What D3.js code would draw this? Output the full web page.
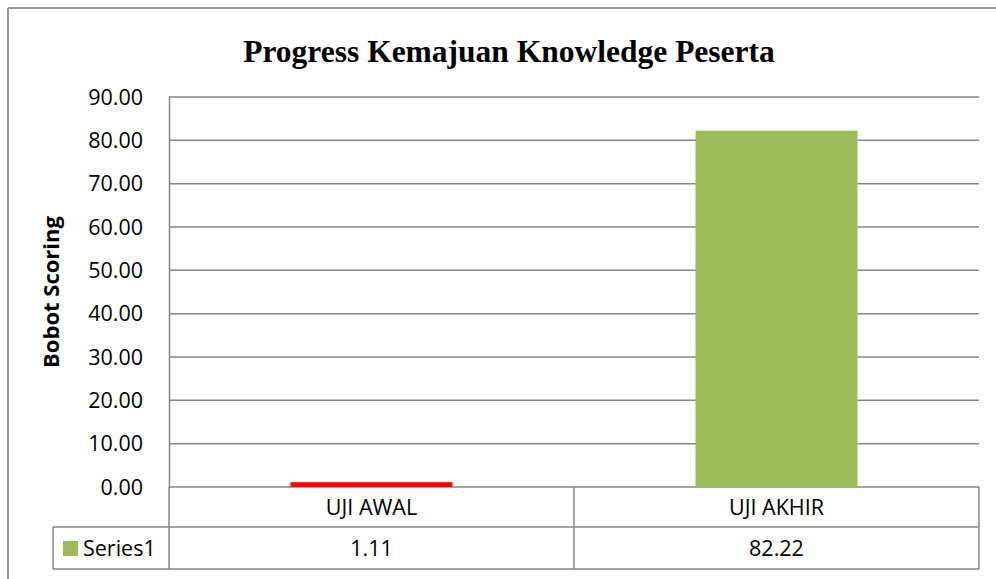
<!DOCTYPE html>
<html><head><meta charset="utf-8">
<script src="https://cdn.jsdelivr.net/npm/d3@7"></script>
<style>body{margin:0;background:#fff}svg{display:block}</style>
</head><body>
<svg id="c" width="996" height="579"></svg>
<script>
const categories = ["UJI AWAL", "UJI AKHIR"];
const values = [1.11, 82.22];
const barColors = ["#FF0000", "#9BBB59"];
const seriesName = "Series1";
const legendColor = "#9BBB59";
const yTicks = [0,10,20,30,40,50,60,70,80,90];
const title = "Progress Kemajuan Knowledge Peserta";
const yTitle = "Bobot Scoring";

const svg = d3.select("#c");
const L = 169, R = 979, T = 97, B = 487;
const gridColor = "#868686";
const sans = "'Open Sans', 'Noto Sans', sans-serif";
const fs = 21.5;

// outer frame
svg.append("line").attr("x1",8).attr("x2",996).attr("y1",8).attr("y2",8).attr("stroke","#999").attr("stroke-width",2);
svg.append("line").attr("x1",8).attr("x2",8).attr("y1",8).attr("y2",579).attr("stroke","#999").attr("stroke-width",2);

svg.append("text").attr("x",509).attr("y",62).attr("text-anchor","middle")
  .attr("font-family","'Liberation Serif','Times New Roman',serif").attr("font-weight","bold")
  .attr("font-size",31.5).text(title);

const y = d3.scaleLinear().domain([0,90]).range([B,T]);
const x = d3.scaleBand().domain(categories).range([L,R]).paddingInner(0).paddingOuter(0);

// gridlines
svg.append("g").selectAll("line").data(yTicks).join("line")
  .attr("x1",L).attr("x2",R).attr("y1",d=>y(d)).attr("y2",d=>y(d))
  .attr("stroke",gridColor).attr("stroke-width",1.5);

// y axis
const ya = svg.append("g").attr("transform",`translate(${L},0)`)
  .call(d3.axisLeft(y).tickValues(yTicks).tickFormat(d3.format(".2f")).tickSize(0).tickPadding(26));
ya.select(".domain").attr("stroke",gridColor).attr("stroke-width",1.5);
ya.selectAll("text").attr("font-family",sans).attr("font-size",fs).attr("fill","#000").attr("dy","0.33em");

svg.append("text").attr("transform",`translate(59,${(T+B)/2}) rotate(-90)`)
  .attr("text-anchor","middle").attr("font-family",sans).attr("font-weight","bold")
  .attr("font-size",22).text(yTitle);

// bars
const bw = x.bandwidth()*0.4;
svg.append("g").selectAll("rect").data(values).join("rect")
  .attr("x",(d,i)=>x(categories[i])+x.bandwidth()/2-bw/2)
  .attr("width",bw)
  .attr("y",d=>y(d)).attr("height",d=>y(0)-y(d))
  .attr("fill",(d,i)=>barColors[i]);

// data table
const r1 = B, r2 = 527, r3 = 569, LL = 53;
const tg = svg.append("g").attr("stroke",gridColor).attr("stroke-width",1.5);
tg.append("line").attr("x1",LL).attr("x2",R).attr("y1",r2).attr("y2",r2);
tg.append("line").attr("x1",LL).attr("x2",R).attr("y1",r3).attr("y2",r3);
tg.append("line").attr("x1",LL).attr("x2",LL).attr("y1",r2).attr("y2",r3);
tg.append("line").attr("x1",L).attr("x2",L).attr("y1",r1).attr("y2",r3);
tg.append("line").attr("x1",R).attr("x2",R).attr("y1",r1).attr("y2",r3);
categories.slice(1).forEach(c=>{
  tg.append("line").attr("x1",x(c)).attr("x2",x(c)).attr("y1",r1).attr("y2",r3);
});
svg.append("g").selectAll("text").data(categories).join("text")
  .attr("x",d=>x(d)+x.bandwidth()/2).attr("y",(r1+r2)/2+8).attr("text-anchor","middle")
  .attr("font-family",sans).attr("font-size",fs).text(d=>d);
svg.append("g").selectAll("text").data(values).join("text")
  .attr("x",(d,i)=>x(categories[i])+x.bandwidth()/2).attr("y",(r2+r3)/2+8).attr("text-anchor","middle")
  .attr("font-family",sans).attr("font-size",fs).text(d=>d3.format(".2f")(d));
svg.append("rect").attr("x",63).attr("y",541).attr("width",15).attr("height",15).attr("fill",legendColor);
svg.append("text").attr("x",83).attr("y",(r2+r3)/2+8).attr("font-family",sans).attr("font-size",fs).text(seriesName);
</script>
</body></html>
